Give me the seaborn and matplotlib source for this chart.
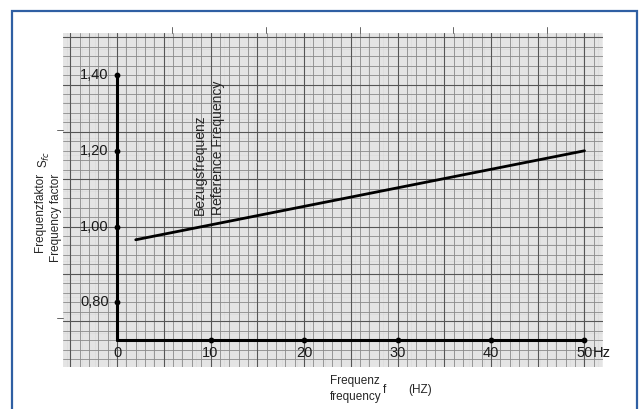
import matplotlib.pyplot as plt
import seaborn as sns
import numpy as np
from pandas import DataFrame
from matplotlib.patches import Rectangle

sns.set_theme(style="white")
plt.rcParams["font.family"] = ["Liberation Sans", "DejaVu Sans"]

# data
freq = [2, 50]
factor = [0.965, 1.20]
x_ticks = [0, 10, 20, 30, 40, 50]
x_labels = ["0", "10", "20", "30", "40", "50"]
y_ticks = [0.80, 1.00, 1.20, 1.40]
y_labels = ["0,80", "1,00", "1,20", "1,40"]
y_base = 0.70
ref_freq = 10

fig = plt.figure(figsize=(6.41, 4.09), dpi=100)
ax = fig.add_axes([63 / 641, 1 - 367 / 409, 540 / 641, 334 / 409])
ax.set_xlim(-5.78, 51.98)
ax.set_ylim(0.629, 1.511)
for s in ax.spines.values():
    s.set_visible(False)
ax.set_xticks([])
ax.set_yticks([])

# graph paper
ax.set_facecolor("#f4f4f4")
for v in np.arange(-5.8, 52, 0.2):
    ax.axvline(v, color="#cfcfcf", lw=0.35, zorder=0)
for v in np.arange(0.625, 1.515, 0.005):
    ax.axhline(v, color="#cfcfcf", lw=0.35, zorder=0)
for v in np.arange(-5, 52, 1):
    ax.axvline(v, color="#8a8a8a", lw=0.6, zorder=0.5)
for v in np.arange(0.625, 1.515, 0.025):
    ax.axhline(v, color="#8a8a8a", lw=0.6, zorder=0.5)
for v in np.arange(-5, 52, 5):
    ax.axvline(v, color="#555555", lw=0.8, zorder=0.6)
for v in np.arange(0.625, 1.515, 0.125):
    ax.axhline(v, color="#555555", lw=0.8, zorder=0.6)

# axes of the drawn chart
ax.plot([x_ticks[0], x_ticks[0]], [y_base, y_ticks[-1]], color="black", lw=2.2, zorder=3)
ax.plot([x_ticks[0], x_ticks[-1]], [y_base, y_base], color="black", lw=2.2, zorder=3)
ax.scatter([x_ticks[0]] * len(y_ticks), y_ticks, s=10, color="black", zorder=4)
ax.scatter(x_ticks[1:], [y_base] * (len(x_ticks) - 1), s=10, color="black", zorder=4)

for t, lab in zip(y_ticks, y_labels):
    ax.text(x_ticks[0] - 0.9, t, lab, ha="right", va="center", fontsize=10.5,
            color="#1a1a1a", zorder=5)
for t, lab in zip(x_ticks, x_labels):
    ax.text(t, y_base - 0.035, lab, ha="center", va="center", fontsize=10.5,
            color="#1a1a1a", zorder=5)
ax.text(x_ticks[-1] + 0.9, y_base - 0.035, "Hz", ha="left", va="center",
        fontsize=10.5, color="#1a1a1a", zorder=5)

df = DataFrame({"f": freq, "S": factor})
sns.lineplot(data=df, x="f", y="S", color="black", lw=2, ax=ax, zorder=4)
ax.set_xlabel("")
ax.set_ylabel("")

ax.text(ref_freq - 1.1, 1.03, "Bezugsfrequenz", rotation=90, ha="center",
        va="bottom", fontsize=10, zorder=5)
ax.text(ref_freq + 0.8, 1.03, "Reference Frequency", rotation=90, ha="center",
        va="bottom", fontsize=10, zorder=5)

# outer labels
fig.text(40 / 641, 1 - 252 / 409, "Frequenzfaktor", rotation=90, ha="center",
         va="bottom", fontsize=8.5)
fig.text(56 / 641, 1 - 262 / 409, "Frequency factor", rotation=90, ha="center",
         va="bottom", fontsize=8.5)
fig.text(44 / 641, 1 - 168 / 409, r"S$_{fc}$", rotation=90, ha="center",
         va="bottom", fontsize=8.5)
fig.text(330 / 641, 1 - 381 / 409, "Frequenz", ha="left", va="center", fontsize=8.5)
fig.text(330 / 641, 1 - 397 / 409, "frequency", ha="left", va="center", fontsize=8.5)
fig.text(383 / 641, 1 - 390 / 409, "f", ha="left", va="center", fontsize=8.5)
fig.text(408 / 641, 1 - 390 / 409, "(HZ)", ha="left", va="center", fontsize=8.5)

# scan registration marks
for px in [172, 266, 360, 453, 547]:
    fig.add_artist(plt.Line2D([px / 641] * 2, [1 - 33 / 409, 1 - 27 / 409],
                              color="#666666", lw=0.7))
for py in [130, 318]:
    fig.add_artist(plt.Line2D([57 / 641, 63 / 641], [1 - py / 409] * 2,
                              color="#666666", lw=0.7))

fig.add_artist(Rectangle((12 / 641, -0.05), 625 / 641, 1.05 - 11 / 409,
                         transform=fig.transFigure, fill=False,
                         edgecolor="#2f5fa3", lw=1.6))

fig.savefig("out.png", dpi=100)
